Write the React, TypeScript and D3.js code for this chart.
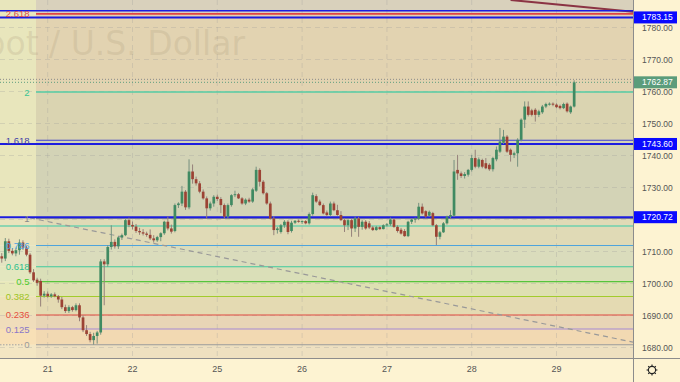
import React from 'react';
import * as d3 from 'd3';

type OHLC = [number, number, number, number];

// ---------------- DATA ----------------
const firstCandleIndex = -13; // hourly bars, index 0 = first bar of day "21"

const day20: OHLC[] = [
  [1708.5, 1709.5, 1706.5, 1707.8], [1707.8, 1714.2, 1707.0, 1713.2], [1713.2, 1714.0, 1709.5, 1710.2],
  [1710.2, 1711.0, 1708.8, 1709.4], [1709.4, 1711.2, 1708.5, 1710.4], [1710.4, 1713.8, 1709.0, 1712.8],
  [1712.8, 1713.5, 1710.5, 1711.2], [1711.2, 1711.8, 1708.5, 1709.0], [1709.0, 1709.5, 1703.0, 1703.5],
  [1703.5, 1704.5, 1700.5, 1701.0], [1701.2, 1701.8, 1699.3, 1700.2], [1700.8, 1701.5, 1692.8, 1696.2],
  [1696.2, 1697.6, 1695.6, 1696.8],
];
const day21: OHLC[] = [
  [1696.8, 1697.5, 1695.6, 1696.0], [1696.0, 1697.0, 1695.5, 1696.6], [1696.6, 1697.2, 1695.7, 1696.0],
  [1696.0, 1696.4, 1694.0, 1695.0], [1695.0, 1695.8, 1692.0, 1692.6], [1692.6, 1693.4, 1690.8, 1691.4],
  [1691.4, 1693.2, 1690.8, 1692.6], [1692.6, 1693.0, 1691.2, 1691.7], [1691.7, 1693.8, 1691.3, 1693.2],
  [1693.2, 1693.8, 1688.2, 1689.4], [1689.4, 1690.0, 1684.8, 1685.4], [1685.4, 1687.0, 1683.6, 1684.2],
  [1684.2, 1684.9, 1681.6, 1682.3], [1682.3, 1684.6, 1680.9, 1683.6], [1683.6, 1685.2, 1681.2, 1684.7],
  [1684.7, 1707.6, 1684.0, 1706.9], [1706.9, 1707.6, 1693.2, 1706.0], [1706.0, 1712.0, 1705.2, 1711.4],
  [1711.4, 1718.2, 1710.6, 1713.0], [1713.0, 1713.8, 1710.9, 1711.6], [1711.6, 1714.8, 1710.8, 1714.4],
  [1714.4, 1715.6, 1713.6, 1715.1], [1715.1, 1720.4, 1714.8, 1719.8], [1719.8, 1720.6, 1717.6, 1718.3],
];
const day22: OHLC[] = [
  [1718.3, 1719.4, 1716.9, 1717.8], [1717.8, 1718.6, 1715.8, 1716.4], [1716.4, 1717.4, 1715.2, 1716.0],
  [1716.0, 1717.0, 1715.0, 1715.6], [1715.6, 1716.2, 1714.6, 1715.2], [1715.2, 1716.9, 1713.6, 1714.1],
  [1714.1, 1715.1, 1712.8, 1713.5], [1713.5, 1714.9, 1713.0, 1714.5], [1714.5, 1716.0, 1713.2, 1715.7],
  [1715.7, 1719.6, 1715.2, 1719.3], [1719.3, 1720.9, 1716.6, 1717.2], [1717.2, 1718.4, 1715.6, 1716.2],
  [1716.4, 1725.0, 1716.0, 1724.5], [1724.5, 1725.4, 1723.6, 1725.0], [1725.0, 1730.5, 1724.2, 1728.7],
  [1728.7, 1729.2, 1723.0, 1723.8], [1723.8, 1738.8, 1723.2, 1735.0], [1735.0, 1737.2, 1731.2, 1732.6],
  [1732.6, 1733.4, 1730.6, 1731.3], [1731.3, 1732.0, 1728.2, 1728.7], [1728.7, 1729.4, 1726.2, 1726.6],
  [1726.6, 1727.2, 1720.3, 1723.5], [1723.5, 1725.6, 1722.8, 1725.0], [1725.0, 1727.6, 1724.0, 1727.1],
];
const day25: OHLC[] = [
  [1727.1, 1727.8, 1725.8, 1726.4], [1726.4, 1727.0, 1722.0, 1724.5], [1724.5, 1725.0, 1720.3, 1720.9],
  [1720.9, 1725.0, 1720.2, 1724.5], [1724.5, 1727.9, 1724.0, 1727.6], [1727.6, 1729.0, 1727.0, 1727.9],
  [1727.9, 1728.3, 1726.4, 1726.6], [1726.6, 1727.0, 1724.6, 1725.0], [1725.0, 1726.6, 1724.5, 1726.2],
  [1726.2, 1726.8, 1725.2, 1725.6], [1725.6, 1729.8, 1725.2, 1729.4], [1729.0, 1736.5, 1728.6, 1735.5],
  [1735.5, 1736.0, 1730.3, 1731.8], [1731.8, 1732.3, 1727.8, 1728.2], [1728.2, 1728.6, 1724.6, 1725.0],
  [1725.0, 1725.6, 1720.0, 1720.3], [1720.3, 1721.0, 1715.1, 1716.7], [1716.7, 1717.7, 1715.6, 1717.2],
  [1716.1, 1718.6, 1715.6, 1718.2], [1718.2, 1719.8, 1717.4, 1719.3], [1719.3, 1719.8, 1715.4, 1716.1],
  [1716.4, 1719.6, 1715.9, 1719.0], [1719.0, 1719.8, 1718.6, 1719.6], [1719.6, 1720.0, 1719.0, 1719.3],
];
const day26: OHLC[] = [
  [1719.3, 1719.7, 1718.6, 1719.5], [1719.5, 1719.8, 1718.5, 1718.8], [1718.8, 1722.2, 1718.4, 1721.7],
  [1721.7, 1728.4, 1721.2, 1727.6], [1727.3, 1727.9, 1725.2, 1725.6], [1725.6, 1726.2, 1724.2, 1724.5],
  [1724.5, 1725.0, 1721.6, 1721.9], [1722.2, 1722.8, 1721.0, 1721.4], [1721.4, 1725.6, 1721.0, 1725.0],
  [1725.0, 1725.6, 1722.6, 1722.9], [1722.9, 1724.6, 1721.2, 1721.4], [1721.4, 1722.6, 1719.5, 1719.8],
  [1719.8, 1720.4, 1716.1, 1718.2], [1718.2, 1720.3, 1716.7, 1719.8], [1719.8, 1720.2, 1714.6, 1717.2],
  [1717.2, 1720.9, 1716.1, 1720.3], [1720.3, 1720.8, 1714.6, 1717.7], [1717.7, 1719.8, 1716.8, 1719.3],
  [1719.3, 1719.8, 1716.8, 1717.2], [1718.8, 1719.5, 1717.0, 1717.5], [1717.5, 1718.0, 1716.4, 1716.7],
  [1716.7, 1718.0, 1716.5, 1717.6], [1717.6, 1717.9, 1716.7, 1717.0], [1717.0, 1718.5, 1716.9, 1718.2],
];
const day27: OHLC[] = [
  [1718.2, 1718.9, 1717.8, 1718.5], [1718.5, 1720.6, 1718.0, 1720.0], [1720.0, 1720.3, 1717.4, 1717.7],
  [1717.7, 1718.2, 1715.9, 1716.4], [1716.8, 1717.4, 1715.3, 1715.6], [1716.4, 1717.0, 1714.6, 1714.8],
  [1714.8, 1719.6, 1714.5, 1719.3], [1719.3, 1720.3, 1718.6, 1720.0], [1720.0, 1720.6, 1719.0, 1720.3],
  [1720.3, 1725.2, 1719.8, 1724.0], [1724.0, 1725.0, 1721.5, 1721.9], [1722.6, 1722.9, 1720.6, 1720.9],
  [1721.2, 1722.8, 1720.9, 1722.4], [1722.0, 1722.4, 1717.9, 1718.2], [1718.2, 1718.6, 1712.0, 1714.6],
  [1714.6, 1716.4, 1713.8, 1716.0], [1716.0, 1719.2, 1715.8, 1718.8], [1718.8, 1721.2, 1718.4, 1720.9],
  [1720.9, 1722.9, 1720.4, 1721.4], [1721.2, 1738.6, 1720.8, 1735.0], [1735.5, 1740.2, 1732.4, 1734.4],
  [1734.4, 1735.0, 1733.0, 1733.6], [1733.6, 1734.8, 1732.8, 1734.2], [1734.0, 1735.8, 1733.4, 1735.5],
];
const day28: OHLC[] = [
  [1735.5, 1740.2, 1735.0, 1739.2], [1739.2, 1741.8, 1736.0, 1736.5], [1736.5, 1739.4, 1736.0, 1738.8],
  [1738.6, 1739.0, 1736.0, 1736.5], [1737.6, 1739.2, 1735.7, 1736.0], [1737.1, 1737.6, 1735.2, 1735.7],
  [1735.7, 1739.6, 1735.0, 1739.2], [1738.8, 1742.8, 1738.2, 1741.8], [1741.2, 1748.6, 1740.8, 1744.4],
  [1744.0, 1748.0, 1743.6, 1745.9], [1745.9, 1746.4, 1740.8, 1741.2], [1741.8, 1742.2, 1738.1, 1740.2],
  [1740.2, 1741.2, 1739.2, 1740.7], [1740.7, 1745.4, 1736.5, 1744.9], [1744.9, 1751.6, 1744.4, 1751.2],
  [1751.2, 1756.9, 1748.6, 1755.3], [1755.3, 1756.9, 1752.2, 1752.7], [1754.1, 1754.6, 1752.2, 1752.7],
  [1754.3, 1754.8, 1750.6, 1752.7], [1752.7, 1754.3, 1752.0, 1753.8], [1753.5, 1755.8, 1753.0, 1755.3],
  [1755.3, 1756.5, 1754.8, 1756.1], [1756.0, 1756.6, 1755.6, 1756.2], [1756.2, 1756.6, 1755.4, 1755.9],
];
const day29: OHLC[] = [
  [1755.9, 1756.3, 1754.8, 1755.1], [1755.5, 1755.9, 1754.4, 1754.8], [1754.8, 1756.5, 1754.5, 1756.1],
  [1756.2, 1756.6, 1753.4, 1753.8], [1753.5, 1755.6, 1753.0, 1755.3], [1755.3, 1763.5, 1755.0, 1762.87],
];

const dayLabels = ['21', '22', '25', '26', '27', '28', '29'];
const dayStartIndex = [0, 24, 48, 72, 96, 120, 144];
const priceTicks = [1680, 1690, 1700, 1710, 1720, 1730, 1740, 1750, 1760, 1770, 1780];

const fibLow = 1680.84;
const fibHigh = 1720.34;
const fibLevels = [0, 0.125, 0.236, 0.382, 0.5, 0.618, 0.786, 1, 1.618, 2, 2.618];
const fibLevelLabels = ['0', '0.125', '0.236', '0.382', '0.5', '0.618', '0.786', '1', '1.618', '2', '2.618'];

const horizontalLevels = [1785.25, 1783.15, 1743.6, 1720.72];
const horizontalLabels = ['', '1783.15', '1743.60', '1720.72'];
const tealLevel = 1717.97;
const lastPrice = 1762.87;
const lastPriceLabel = '1762.87';
const sessionHigh = 1763.8;
const dashedTrend: [number, number][] = [[-5, 1720.5], [166, 1681.6]];
const redTrend: [number, number][] = [[131, 1788.6], [166, 1784.9]];
const watermark = 'Gold Spot / U.S. Dollar';

// ---------------- STYLES ----------------
const fibColors = ['#9a9a9a', '#a48ad4', '#e04a40', '#a2cc2c', '#56c43c', '#3cc89c', '#4ea4dc', '#8c8c8c', '#3c3cd0', '#54cca4', '#e04444'];
const fibLabelColors = ['#9a9a9a', '#8a78c8', '#e4503e', '#9cc424', '#4ccc2c', '#2cc08e', '#4aa2e2', '#8a8a8a', '#3e3ea8', '#3cc493', '#e04848'];
// zones from top of the pane down to the bottom (12 zones)
const zoneRight = ['#d9d1bc', '#e2d3b1', '#dad4b1', '#d3d3b6', '#e0dab6', '#dadcbc', '#dadfb8', '#dee0b2', '#e4dab2', '#e8d5b6', '#f2d9b2', '#eee0c0'];
const zoneLeft = ['#e8e6bc', '#e8e6bc', '#e8e6bc', '#e8e6bc', '#e9e3bc', '#e3e4c2', '#e3e7bf', '#e7e8b9', '#ede2b8', '#f0ddbb', '#f8e0b6', '#f3e6c3'];

const W = 680;
const H = 382;
const plotW = 633;
const plotH = 358;
const stripW = 36;
const axisFont = 'Liberation Sans, Arial, sans-serif';

export default function App() {
  const candles: OHLC[] = [...day20, ...day21, ...day22, ...day25, ...day26, ...day27, ...day28, ...day29];
  const x = d3.scaleLinear().domain([0, 24]).range([47.7, 132.5]);
  const y = d3.scaleLinear().domain([1680, 1780]).range([347.5, 27.5]);
  const fibPrice = (r: number) => fibLow + (fibHigh - fibLow) * r;

  const sortedFib = [...fibLevels].sort((a, b) => b - a);
  const bounds = [0, ...sortedFib.map((r) => y(fibPrice(r))), plotH];

  const lineGen = d3.line<[number, number]>().x((d) => x(d[0])).y((d) => y(d[1]));
  const bodyW = 2.7;
  const green = '#408a62';
  const red = '#9c4334';

  const boxYs = [...horizontalLevels.filter((_, i) => horizontalLabels[i]), lastPrice].map((p) => y(p));
  const visibleTicks = priceTicks.filter((p) => boxYs.every((by) => Math.abs(y(p) - by) > 9));

  return (
    <svg width={W} height={H} style={{ position: 'fixed', left: 0, top: 0, display: 'block' }}>
      <defs>
        <clipPath id="plot">
          <rect x={0} y={0} width={plotW} height={plotH} />
        </clipPath>
      </defs>
      <rect x={0} y={0} width={W} height={H} fill="#fdf3d2" />
      <g clipPath="url(#plot)">
        {zoneRight.map((c, i) => (
          <rect key={'zr' + i} x={stripW} y={bounds[i]} width={plotW - stripW} height={Math.max(0, bounds[i + 1] - bounds[i])} fill={c} />
        ))}
        {zoneLeft.map((c, i) => (
          <rect key={'zl' + i} x={0} y={bounds[i]} width={stripW} height={Math.max(0, bounds[i + 1] - bounds[i])} fill={c} />
        ))}
        {/* grid */}
        {priceTicks.map((p) => (
          <line key={'hg' + p} x1={0} x2={plotW} y1={y(p)} y2={y(p)} stroke="#9a9a9a" strokeOpacity={0.28} strokeDasharray="5 4" />
        ))}
        {dayStartIndex.map((k) => (
          <line key={'vg' + k} x1={x(k)} x2={x(k)} y1={0} y2={plotH} stroke="#9a9a9a" strokeOpacity={0.28} strokeDasharray="5 4" />
        ))}
        {/* watermark */}
        <text x={245} y={55} textAnchor="end" fontFamily="DejaVu Sans, sans-serif" fontSize={33} fill="#a89878" fillOpacity={0.22}>
          {watermark}
        </text>
        {/* fib lines */}
        {fibLevels.map((r, i) => (
          <line key={'fl' + i} x1={stripW} x2={plotW} y1={y(fibPrice(r))} y2={y(fibPrice(r))} stroke={fibColors[i]}
            strokeWidth={r === 2 || r === 2.618 ? 1.6 : 1.1} />
        ))}
        <line x1={0} x2={24} y1={y(fibPrice(0))} y2={y(fibPrice(0))} stroke="#a0a0a0" strokeDasharray="1.5 1.5" />
        <line x1={0} x2={plotW} y1={y(tealLevel)} y2={y(tealLevel)} stroke="#6fd0ae" strokeWidth={1.3} />
        {/* trend lines */}
        <path d={lineGen(dashedTrend) || ''} stroke="#999" strokeWidth={1.2} strokeDasharray="5 4" fill="none" />
        <path d={lineGen(redTrend) || ''} stroke="#8b3344" strokeWidth={2} fill="none" />
        {/* horizontal blue levels */}
        {horizontalLevels.map((p, i) => (
          <line key={'hl' + i} x1={0} x2={plotW} y1={y(p)} y2={y(p)} stroke="#1c1ce0" strokeWidth={i === 0 ? 1.4 : 2} />
        ))}
        {/* candles */}
        {candles.map((c, i) => {
          const [o, h, l, cl] = c;
          const cx = x(firstCandleIndex + i);
          const up = cl >= o;
          const top = y(Math.max(o, cl));
          const bot = y(Math.min(o, cl));
          return (
            <g key={'c' + i}>
              <line x1={cx} x2={cx} y1={y(h)} y2={y(l)} stroke={up ? '#76917f' : '#95807a'} strokeWidth={1} />
              <rect x={cx - bodyW / 2} y={top} width={bodyW} height={Math.max(1, bot - top)} fill={up ? green : red} />
            </g>
          );
        })}
        {/* fib labels */}
        {fibLevels.map((r, i) => (
          <text key={'ft' + i} x={29.5} y={y(fibPrice(r))} textAnchor="end" dominantBaseline="central"
            fontFamily={axisFont} fontSize={9.5} fill={fibLabelColors[i]}>
            {fibLevelLabels[i]}
          </text>
        ))}
        {/* price lines */}
        <line x1={0} x2={plotW} y1={y(sessionHigh)} y2={y(sessionHigh)} stroke="#8a8a8a" strokeDasharray="1 2" />
        <line x1={0} x2={plotW} y1={y(lastPrice)} y2={y(lastPrice)} stroke="#5e9e7e" strokeDasharray="1 2" />
      </g>
      {/* axes */}
      <line x1={plotW + 0.5} x2={plotW + 0.5} y1={0} y2={H} stroke="#8c8c8c" />
      <line x1={0} x2={W} y1={plotH + 0.5} y2={plotH + 0.5} stroke="#8c8c8c" />
      {visibleTicks.map((p) => (
        <text key={'yt' + p} x={642} y={y(p)} dominantBaseline="central" fontFamily={axisFont} fontSize={8.5} fill="#555">
          {p.toFixed(2)}
        </text>
      ))}
      {horizontalLevels.map((p, i) =>
        horizontalLabels[i] ? (
          <g key={'hb' + i}>
            <rect x={634} y={y(p) - 6} width={43} height={12} fill="#0a0aff" />
            <text x={642} y={y(p)} dominantBaseline="central" fontFamily={axisFont} fontSize={8.5} fill="#fff">
              {horizontalLabels[i]}
            </text>
          </g>
        ) : null
      )}
      <rect x={634} y={y(lastPrice) - 6} width={43} height={12} fill="#5b9c7b" />
      <text x={642} y={y(lastPrice)} dominantBaseline="central" fontFamily={axisFont} fontSize={8.5} fill="#fff">
        {lastPriceLabel}
      </text>
      {dayStartIndex.map((k, i) => (
        <text key={'xt' + k} x={x(k)} y={368.5} textAnchor="middle" dominantBaseline="central" fontFamily={axisFont} fontSize={9} fill="#555">
          {dayLabels[i]}
        </text>
      ))}
      {/* gear icon */}
      <g transform="translate(652,370)" stroke="#222" fill="none" strokeWidth={1.1}>
        <circle r={3.6} />
        {d3.range(8).map((j) => {
          const a = (j * Math.PI) / 4;
          return <line key={'g' + j} x1={Math.cos(a) * 3.6} y1={Math.sin(a) * 3.6} x2={Math.cos(a) * 5.4} y2={Math.sin(a) * 5.4} />;
        })}
      </g>
    </svg>
  );
}
